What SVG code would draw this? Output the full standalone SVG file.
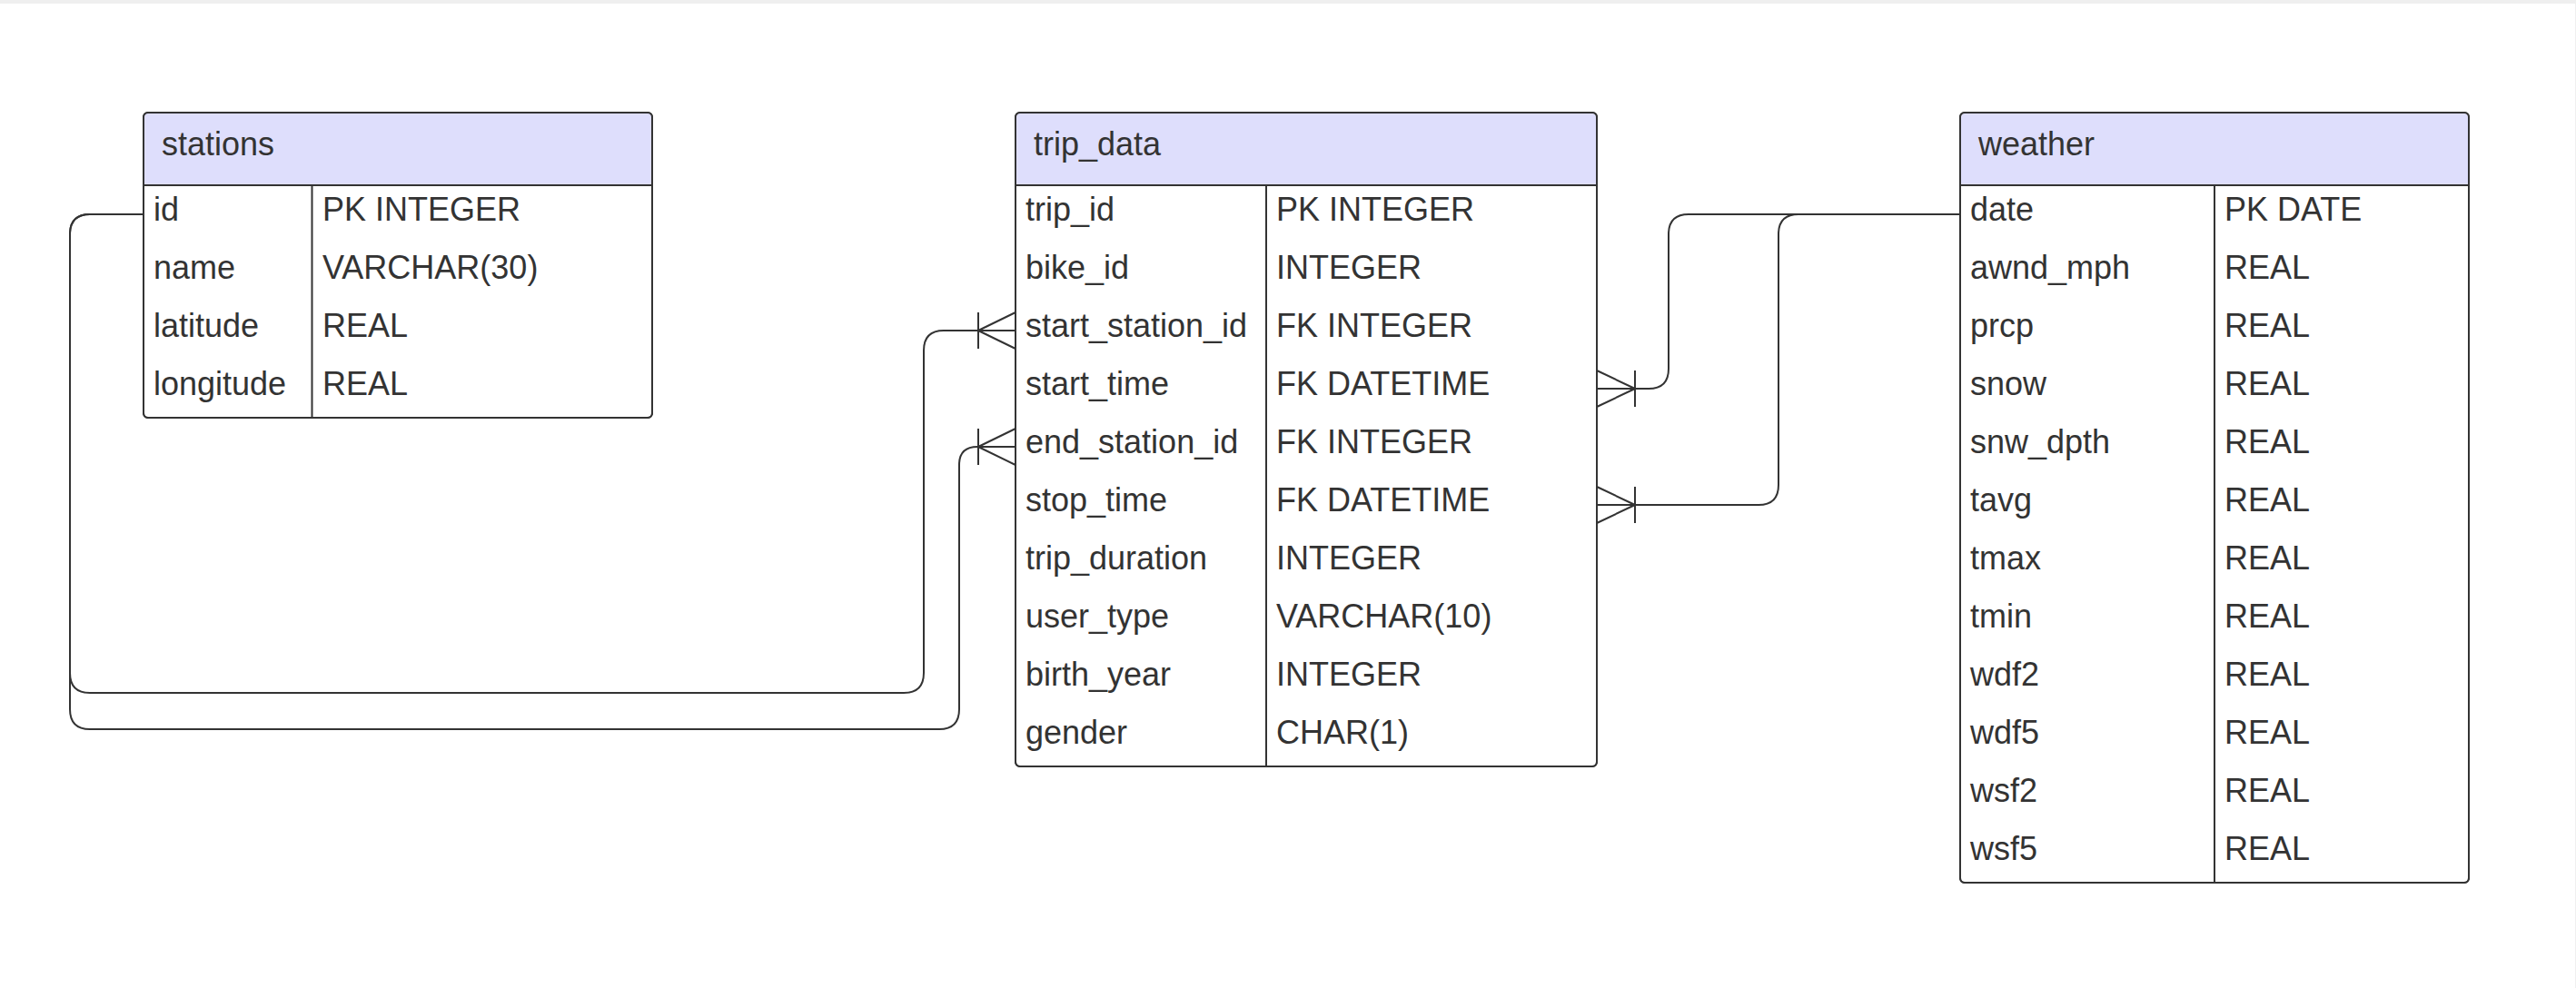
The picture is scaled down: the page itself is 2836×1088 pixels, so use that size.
<svg xmlns="http://www.w3.org/2000/svg" width="2836" height="1088" viewBox="0 0 2836 1088">
<defs>
<style>
.box{fill:#ffffff;stroke:#333333;stroke-width:2}
.hdr{fill:#dedefc;stroke:none}
.ln{stroke:#333333;stroke-width:2;fill:none}
.t{font-family:"Liberation Sans",Arial,sans-serif;font-size:36px;fill:#333333}
.conn{stroke:#333333;stroke-width:2;fill:none}
</style>
</defs>
<rect x="0" y="0" width="2836" height="1088" fill="#ffffff"/>
<rect x="0" y="0" width="2836" height="4" fill="#efefef"/>
<line x1="2835.5" y1="4" x2="2835.5" y2="1088" stroke="#f0f0f0" stroke-width="1"/>

<g id="stations">
<rect class="box" x="158" y="124" width="560" height="336" rx="5"/>
<path class="hdr" d="M163,125 H713 Q717,125 717,129 V204 H159 V129 Q159,125 163,125 Z"/>
<rect class="box" x="158" y="124" width="560" height="336" rx="5" style="fill:none"/>
<line class="ln" x1="158" y1="204" x2="718" y2="204"/>
<line class="ln" x1="343.5" y1="204" x2="343.5" y2="460"/>
<text class="t" x="178" y="171">stations</text>
<text class="t" x="169" y="243">id</text><text class="t" x="355" y="243">PK INTEGER</text>
<text class="t" x="169" y="307">name</text><text class="t" x="355" y="307">VARCHAR(30)</text>
<text class="t" x="169" y="371">latitude</text><text class="t" x="355" y="371">REAL</text>
<text class="t" x="169" y="435">longitude</text><text class="t" x="355" y="435">REAL</text>
</g>

<g id="trip_data">
<rect class="box" x="1118" y="124" width="640" height="720" rx="5"/>
<path class="hdr" d="M1123,125 H1753 Q1757,125 1757,129 V204 H1119 V129 Q1119,125 1123,125 Z"/>
<rect class="box" x="1118" y="124" width="640" height="720" rx="5" style="fill:none"/>
<line class="ln" x1="1118" y1="204" x2="1758" y2="204"/>
<line class="ln" x1="1394" y1="204" x2="1394" y2="844"/>
<text class="t" x="1138" y="171">trip_data</text>
<text class="t" x="1129" y="243">trip_id</text><text class="t" x="1405" y="243">PK INTEGER</text>
<text class="t" x="1129" y="307">bike_id</text><text class="t" x="1405" y="307">INTEGER</text>
<text class="t" x="1129" y="371">start_station_id</text><text class="t" x="1405" y="371">FK INTEGER</text>
<text class="t" x="1129" y="435">start_time</text><text class="t" x="1405" y="435">FK DATETIME</text>
<text class="t" x="1129" y="499">end_station_id</text><text class="t" x="1405" y="499">FK INTEGER</text>
<text class="t" x="1129" y="563">stop_time</text><text class="t" x="1405" y="563">FK DATETIME</text>
<text class="t" x="1129" y="627">trip_duration</text><text class="t" x="1405" y="627">INTEGER</text>
<text class="t" x="1129" y="691">user_type</text><text class="t" x="1405" y="691">VARCHAR(10)</text>
<text class="t" x="1129" y="755">birth_year</text><text class="t" x="1405" y="755">INTEGER</text>
<text class="t" x="1129" y="819">gender</text><text class="t" x="1405" y="819">CHAR(1)</text>
</g>

<g id="weather">
<rect class="box" x="2158" y="124" width="560" height="848" rx="5"/>
<path class="hdr" d="M2163,125 H2713 Q2717,125 2717,129 V204 H2159 V129 Q2159,125 2163,125 Z"/>
<rect class="box" x="2158" y="124" width="560" height="848" rx="5" style="fill:none"/>
<line class="ln" x1="2158" y1="204" x2="2718" y2="204"/>
<line class="ln" x1="2438" y1="204" x2="2438" y2="972"/>
<text class="t" x="2178" y="171">weather</text>
<text class="t" x="2169" y="243">date</text><text class="t" x="2449" y="243">PK DATE</text>
<text class="t" x="2169" y="307">awnd_mph</text><text class="t" x="2449" y="307">REAL</text>
<text class="t" x="2169" y="371">prcp</text><text class="t" x="2449" y="371">REAL</text>
<text class="t" x="2169" y="435">snow</text><text class="t" x="2449" y="435">REAL</text>
<text class="t" x="2169" y="499">snw_dpth</text><text class="t" x="2449" y="499">REAL</text>
<text class="t" x="2169" y="563">tavg</text><text class="t" x="2449" y="563">REAL</text>
<text class="t" x="2169" y="627">tmax</text><text class="t" x="2449" y="627">REAL</text>
<text class="t" x="2169" y="691">tmin</text><text class="t" x="2449" y="691">REAL</text>
<text class="t" x="2169" y="755">wdf2</text><text class="t" x="2449" y="755">REAL</text>
<text class="t" x="2169" y="819">wdf5</text><text class="t" x="2449" y="819">REAL</text>
<text class="t" x="2169" y="883">wsf2</text><text class="t" x="2449" y="883">REAL</text>
<text class="t" x="2169" y="947">wsf5</text><text class="t" x="2449" y="947">REAL</text>
</g>

<g id="connectors">
<path class="conn" d="M158,236 H99 Q77,236 77,258 V741 Q77,763 99,763 H995 Q1017,763 1017,741 V386 Q1017,364 1039,364 H1118"/>
<path class="conn" d="M1077,344 V384 M1077,364 L1118,344 M1077,364 L1118,384"/>
<path class="conn" d="M158,236 H99 Q77,236 77,258 V781 Q77,803 99,803 H1034 Q1056,803 1056,781 V512 Q1056,492 1076,492 H1118"/>
<path class="conn" d="M1077,472 V512 M1077,492 L1118,472 M1077,492 L1118,512"/>
<path class="conn" d="M2158,236 H1859 Q1837,236 1837,258 V406 Q1837,428 1815,428 H1758"/>
<path class="conn" d="M1800,408 V448 M1800,428 L1758,408 M1800,428 L1758,448"/>
<path class="conn" d="M2158,236 H1980 Q1958,236 1958,258 V534 Q1958,556 1936,556 H1758"/>
<path class="conn" d="M1800,536 V576 M1800,556 L1758,536 M1800,556 L1758,576"/>
</g>
</svg>
